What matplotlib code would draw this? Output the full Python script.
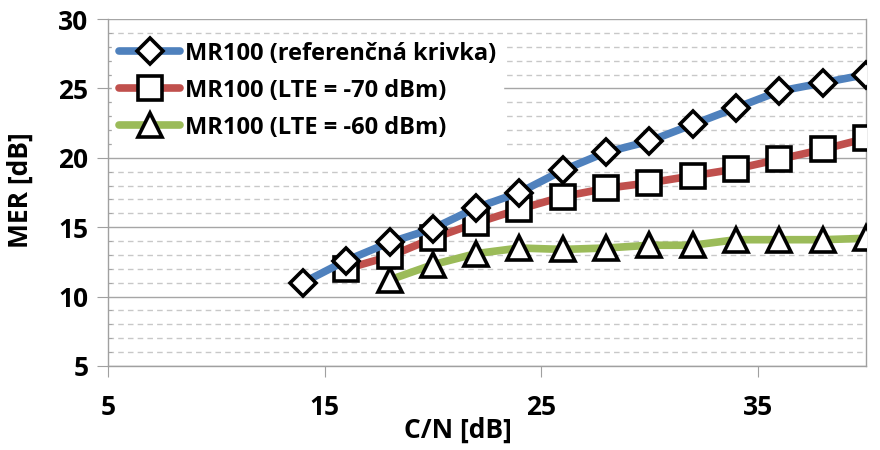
import matplotlib
matplotlib.use("Agg")
import matplotlib.pyplot as plt
from matplotlib.ticker import MultipleLocator, FixedLocator

plt.rcParams['font.family'] = ['Open Sans', 'DejaVu Sans']
plt.rcParams['font.weight'] = 'bold'

# data
cn_ref = [14, 16, 18, 20, 22, 24, 26, 28, 30, 32, 34, 36, 38, 40]
mer_ref = [11.0, 12.6, 13.9, 14.9, 16.4, 17.5, 19.1, 20.4, 21.2, 22.4, 23.6, 24.8, 25.4, 26.0]

cn_70 = [16, 18, 20, 22, 24, 26, 28, 30, 32, 34, 36, 38, 40]
mer_70 = [12.0, 12.9, 14.2, 15.3, 16.3, 17.2, 17.8, 18.2, 18.7, 19.2, 19.9, 20.6, 21.4]

cn_60 = [18, 20, 22, 24, 26, 28, 30, 32, 34, 36, 38, 40]
mer_60 = [11.2, 12.3, 13.1, 13.5, 13.4, 13.5, 13.7, 13.7, 14.1, 14.1, 14.1, 14.2]

labels = ['MR100 (referenčná krivka)', 'MR100 (LTE = -70 dBm)', 'MR100 (LTE = -60 dBm)']
x_ticks = [5, 15, 25, 35]

fig = plt.figure(figsize=(8.8, 4.5), dpi=100)
ax = fig.add_axes([108/880, 1-366/450, (866-108)/880, (366-19)/450])

mk = dict(markerfacecolor='white', markeredgecolor='black', markeredgewidth=2.6, lw=5.5,
          solid_capstyle='round', solid_joinstyle='round')
ax.plot(cn_ref, mer_ref, color='#4F81BD', marker='D', markersize=13, label=labels[0], zorder=5, **mk)
ax.plot(cn_70, mer_70, color='#C0504D', marker='s', markersize=17, label=labels[1], zorder=4, **mk)
ax.plot(cn_60, mer_60, color='#9BBB59', marker='^', markersize=17, label=labels[2], zorder=3, **mk)

ax.set_xlim(5, 40)
ax.set_ylim(5, 30)
ax.xaxis.set_major_locator(FixedLocator(x_ticks))
ax.yaxis.set_major_locator(MultipleLocator(5))
ax.yaxis.set_minor_locator(MultipleLocator(1))

ax.grid(axis='y', which='major', color='#A6A6A6', lw=1.0)
ax.grid(axis='y', which='minor', color='#C8C8C8', lw=1.0, ls=(0, (4, 3)))
ax.set_axisbelow(True)

for s in ax.spines.values():
    s.set_color('#A0A0A0')
    s.set_linewidth(1.0)
ax.spines['top'].set_visible(False)

ax.tick_params(axis='y', which='major', length=8, color='#A0A0A0', labelsize=19, pad=6)
ax.tick_params(axis='y', which='minor', length=3, direction='in', color='#A0A0A0')
ax.tick_params(axis='x', which='major', length=8, color='#A0A0A0', labelsize=19, pad=12)
for t in ax.get_xticklabels() + ax.get_yticklabels():
    t.set_fontweight('bold')

fig.text(20/880, 1-190/450, 'MER [dB]', rotation=90, ha='center', va='center',
         fontsize=19, fontweight='bold')
fig.text(458/880, 1-430/450, 'C/N [dB]', ha='center', va='center',
         fontsize=19, fontweight='bold')

leg = ax.legend(loc='upper left', bbox_to_anchor=(0.005, 0.955), frameon=True, fancybox=False,
                edgecolor='white', framealpha=1.0, prop={'size': 17, 'weight': 'bold'},
                handlelength=2.6, handletextpad=0.2, labelspacing=0.55, borderpad=0.3,
                borderaxespad=0.0)
leg.set_zorder(10)

fig.savefig('out.png', dpi=100)
